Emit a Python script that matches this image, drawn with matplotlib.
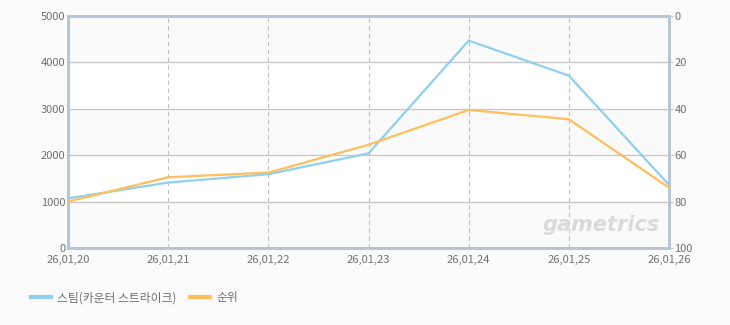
import matplotlib
matplotlib.use("Agg")
import matplotlib.pyplot as plt
from matplotlib.lines import Line2D

plt.rcParams['font.family'] = ['Noto Sans CJK KR', 'DejaVu Sans']

dates = ["26,01,20", "26,01,21", "26,01,22", "26,01,23", "26,01,24", "26,01,25", "26,01,26"]
viewers = [1070, 1410, 1590, 2040, 4470, 3715, 1360]
rank = [80, 69.5, 67.5, 55.5, 40.5, 44.5, 74]
series_names = ["스팀(카운터 스트라이크)", "순위"]

blue = "#8fd0f0"
orange = "#ffbf5e"
spine_c = "#b4c6d8"
txt_c = "#707070"

fig = plt.figure(figsize=(7.3, 3.25), dpi=100, facecolor="#fbfbfb")
W, H = 730, 325
ax = fig.add_axes([68 / W, (H - 248) / H, (669 - 68) / W, (248 - 16) / H])
ax.set_facecolor("white")
x = list(range(len(dates)))
ax.set_xlim(0, len(dates) - 1)
ax.set_ylim(0, 5000)

# alternating bands
for lo in range(0, 5000, 2000):
    ax.axhspan(lo, lo + 1000, color="#fafafa", zorder=0, lw=0)
for yv in [1000, 2000, 3000, 4000]:
    ax.axhline(yv, color="#c8c8c8", lw=1, zorder=1)
for xv in x[1:-1]:
    ax.axvline(xv, color="#c0c0c0", lw=0.8, ls=(0, (4, 3)), zorder=1)

ax.plot(x, viewers, color=blue, lw=1.6, zorder=3)

ax2 = ax.twinx()
ax2.set_ylim(100, 0)
ax2.plot(x, rank, color=orange, lw=1.6, zorder=3)

for a in (ax, ax2):
    for s in a.spines.values():
        s.set_color(spine_c)
        s.set_linewidth(2)

ax.set_yticks([0, 1000, 2000, 3000, 4000, 5000])
ax.set_yticklabels(["0", "1000", "2000", "3000", "4000", "5000"])
ax.tick_params(axis="y", length=0, pad=2, labelsize=8, labelcolor=txt_c)
ax.set_xticks(x)
ax.set_xticklabels(dates)
ax.tick_params(axis="x", length=0, pad=5, labelsize=8, labelcolor=txt_c)
ax2.set_yticks([0, 20, 40, 60, 80, 100])
ax2.tick_params(axis="y", length=3, width=0.8, color=spine_c, pad=1, labelsize=8, labelcolor=txt_c)

ax.text(0.985, 0.055, "gametrics", transform=ax.transAxes, ha="right", va="bottom",
        fontsize=15, fontstyle="italic", fontweight="bold", color="#dadada",
        family="DejaVu Sans", zorder=2)

handles = [Line2D([], [], color=blue, lw=3), Line2D([], [], color=orange, lw=3)]
fig.legend(handles, series_names, loc="center left", bbox_to_anchor=(20 / W, 1 - 298 / H),
           ncol=2, frameon=False, fontsize=8.5, labelcolor=txt_c, handlelength=1.7,
           handletextpad=0.5, columnspacing=1.2)

fig.savefig("out.png", dpi=100, facecolor=fig.get_facecolor())
